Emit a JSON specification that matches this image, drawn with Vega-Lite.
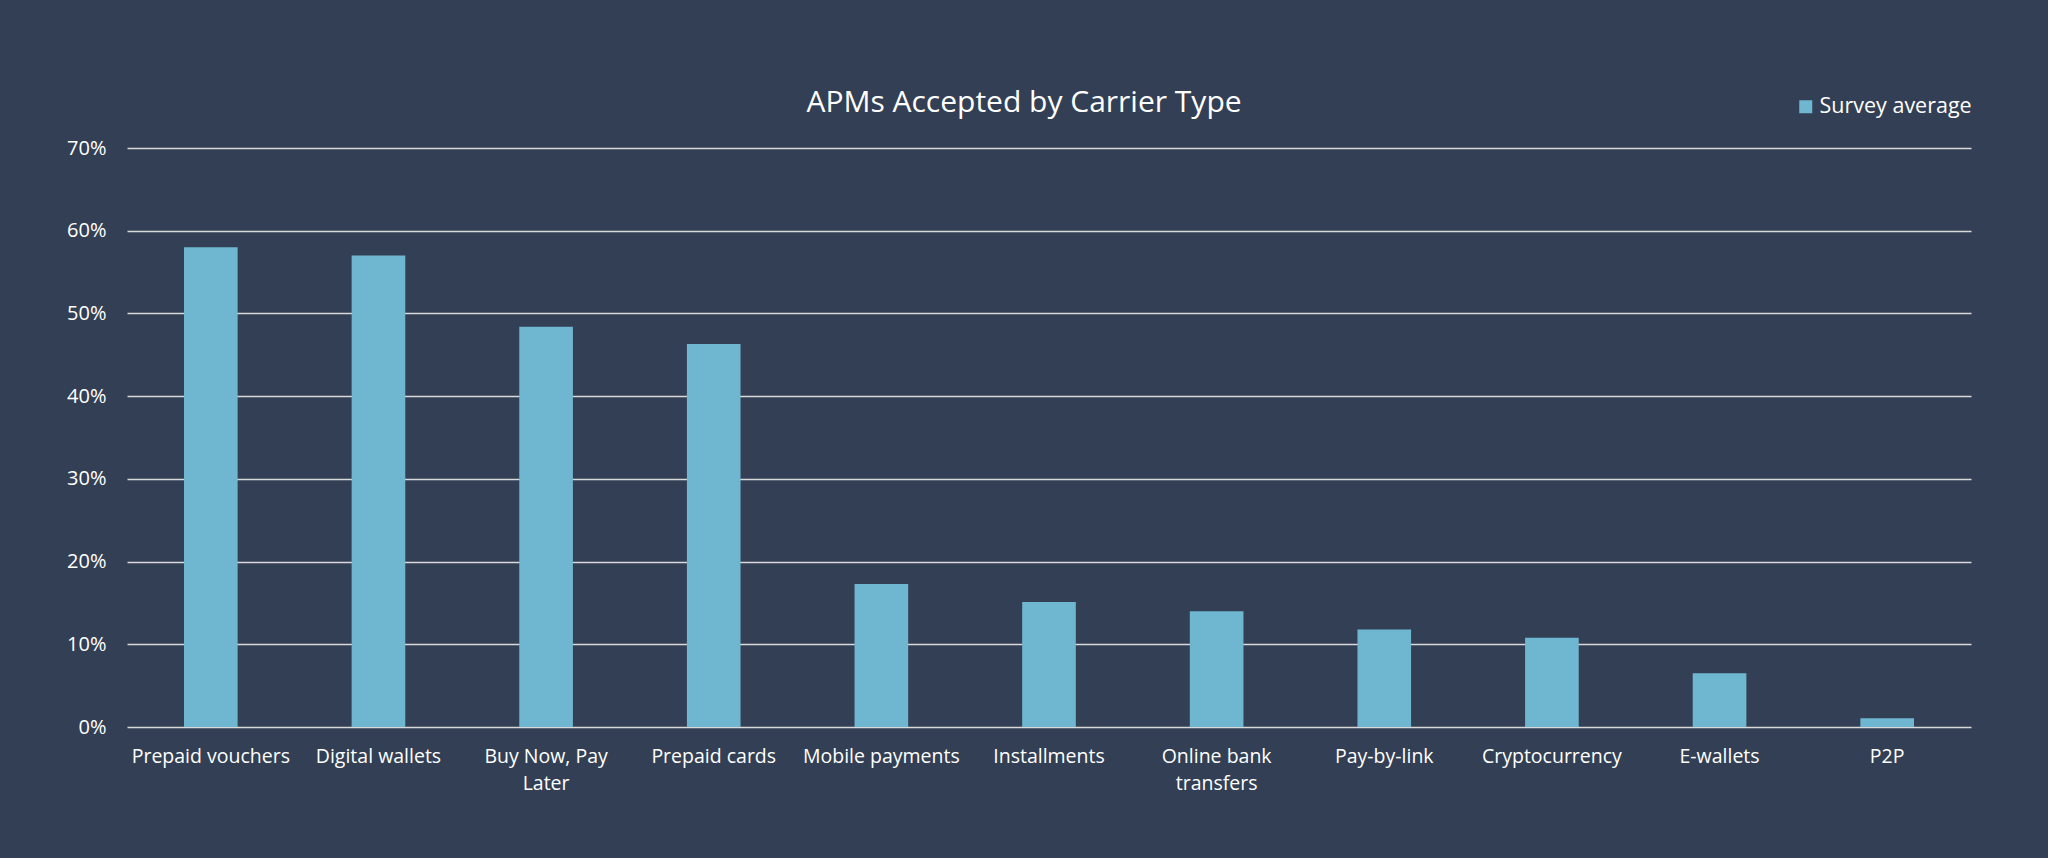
{
  "$schema": "https://vega.github.io/schema/vega-lite/v6.json",
  "width": 1844,
  "height": 579,
  "autosize": {"type": "none"},
  "padding": {"left": 127, "top": 148, "right": 77, "bottom": 131},
  "background": "#333f54",
  "title": {
    "text": "APMs Accepted by Carrier Type",
    "font": "Open Sans",
    "fontSize": 30,
    "fontWeight": "normal",
    "color": "#ffffff",
    "anchor": "middle",
    "frame": "group",
    "baseline": "alphabetic",
    "dx": -25,
    "dy": 82,
    "offset": 36
  },
  "config": {
    "view": {"stroke": null},
    "font": "Open Sans"
  },
  "data": {
    "values": [
      {"method": "Prepaid vouchers", "series": "Survey average", "share": 0.580},
      {"method": "Digital wallets", "series": "Survey average", "share": 0.570},
      {"method": "Buy Now, Pay Later", "series": "Survey average", "share": 0.484},
      {"method": "Prepaid cards", "series": "Survey average", "share": 0.463},
      {"method": "Mobile payments", "series": "Survey average", "share": 0.173},
      {"method": "Installments", "series": "Survey average", "share": 0.151},
      {"method": "Online bank transfers", "series": "Survey average", "share": 0.140},
      {"method": "Pay-by-link", "series": "Survey average", "share": 0.118},
      {"method": "Cryptocurrency", "series": "Survey average", "share": 0.108},
      {"method": "E-wallets", "series": "Survey average", "share": 0.065},
      {"method": "P2P", "series": "Survey average", "share": 0.0105}
    ]
  },
  "mark": {"type": "bar"},
  "encoding": {
    "x": {
      "field": "method",
      "type": "nominal",
      "sort": null,
      "scale": {"paddingInner": 0.68, "paddingOuter": 0.34},
      "axis": {
        "title": null,
        "labelAngle": 0,
        "domain": false,
        "ticks": false,
        "labelPadding": 20,
        "labelFont": "Open Sans",
        "labelFontSize": 19.5,
        "labelLineHeight": 27,
        "labelColor": "#ffffff",
        "labelBaseline": "top",
        "labelExpr": "datum.value == 'Buy Now, Pay Later' ? ['Buy Now, Pay', 'Later'] : datum.value == 'Online bank transfers' ? ['Online bank', 'transfers'] : datum.value"
      }
    },
    "y": {
      "field": "share",
      "type": "quantitative",
      "scale": {"domain": [0, 0.7], "nice": false},
      "axis": {
        "title": null,
        "values": [0, 0.1, 0.2, 0.3, 0.4, 0.5, 0.6, 0.7],
        "format": ".0%",
        "domain": false,
        "ticks": false,
        "labelPadding": 21,
        "labelFont": "Open Sans",
        "labelFontSize": 20,
        "labelColor": "#ffffff",
        "grid": true,
        "gridColor": "#d9d9d9",
        "gridWidth": 1.5
      }
    },
    "color": {
      "field": "series",
      "type": "nominal",
      "scale": {"range": ["#6fb7d0"]},
      "legend": {
        "title": null,
        "orient": "none",
        "legendX": 1668,
        "legendY": -52,
        "padding": 0,
        "symbolType": "square",
        "symbolSize": 169,
        "symbolStrokeWidth": 0,
        "labelFont": "Open Sans",
        "labelFontSize": 21.5,
        "labelColor": "#ffffff",
        "labelOffset": 3
      }
    }
  }
}
